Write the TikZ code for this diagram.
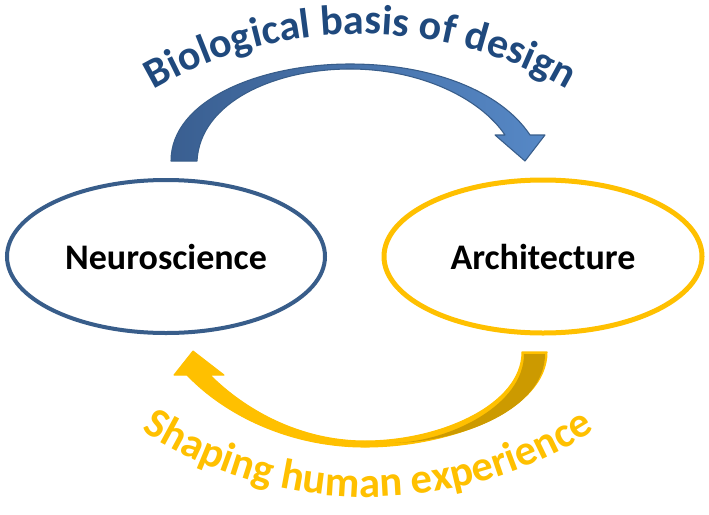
\documentclass[tikz,border=0pt]{standalone}
\usepackage{fontspec}
\setmainfont{Carlito}
\usepackage{tikz}
\usetikzlibrary{shapes.geometric,decorations.text}
\definecolor{neuroblue}{RGB}{56,93,138}
\definecolor{arrowdark}{RGB}{58,95,145}
\definecolor{arrowlight}{RGB}{86,136,198}
\definecolor{titleblue}{RGB}{31,73,125}
\definecolor{archyellow}{RGB}{255,192,0}
\definecolor{archgold}{RGB}{204,154,0}
\newcommand{\bluetitle}{\bfseries\fontsize{31.5}{36}\selectfont}
\newcommand{\yellowtitle}{\bfseries\fontsize{32}{38}\selectfont}
\tikzset{field/.style={ellipse,fill=white,text=black,font=\bfseries\fontsize{27}{32}\selectfont,minimum width=238.5pt,minimum height=114.75pt,inner sep=0mm}}
\tikzset{neuro/.style={field,draw=neuroblue,line width=3pt}}
\tikzset{arch/.style={field,draw=archyellow,line width=3.75pt}}
\tikzset{bluearrow/.style={left color=arrowdark,right color=arrowlight,draw=neuroblue,line width=0.8pt,line join=round}}
\tikzset{yellowarrow/.style={fill=archyellow,draw=archyellow,line width=0.8pt,line join=round}}
\tikzset{backside/.style={fill=archgold}}
\begin{document}
\begin{tikzpicture}[x=0.75pt,y=-0.75pt]
    \useasboundingbox (0,0) rectangle (709,514);

    \node[neuro] (neuro) at (166,256.5) {Neuroscience};
    \node[arch]  (arch)  at (543,256.5) {Architecture};

    \coordinate (toptip) at (525,161);
    \coordinate (bottip) at (193,351);

    \path[bluearrow] (171,161) .. controls (171,100) and (260,64) .. (350,64)
        .. controls (430,64) and (500,90) .. (530,135)
        -- (545,135) -- (toptip) -- (495,135) -- (505,135)
        .. controls (480,98) and (420,69) .. (350,69)
        .. controls (275,69) and (200,102) .. (197,161) -- cycle;

    \path[yellowarrow] (547,352) .. controls (547,410) and (450,447) .. (365,447)
        .. controls (290,447) and (225,415) .. (187,375)
        -- (174,375) -- (bottip) -- (224,375) -- (210,375)
        .. controls (245,410) and (300,441) .. (365,441)
        .. controls (440,441) and (522,405) .. (522,352) -- cycle;
    \path[backside] (524,354) -- (545,354) .. controls (545,408) and (465,441) .. (395,443)
        .. controls (450,441) and (524,405) .. (524,354) -- cycle;

    \path[decorate,decoration={text along path,text align=center,text color=titleblue,
        text={|\bluetitle|Biological basis of design}}]
        (360,444) ++(232:410) arc[start angle=232,end angle=308,radius=410];
    \path[decorate,decoration={text along path,text align=center,text color=archyellow,
        text={|\yellowtitle|Shaping human experience}}]
        (368,77) ++(128:420) arc[start angle=128,end angle=52,radius=420];
\end{tikzpicture}
\end{document}
